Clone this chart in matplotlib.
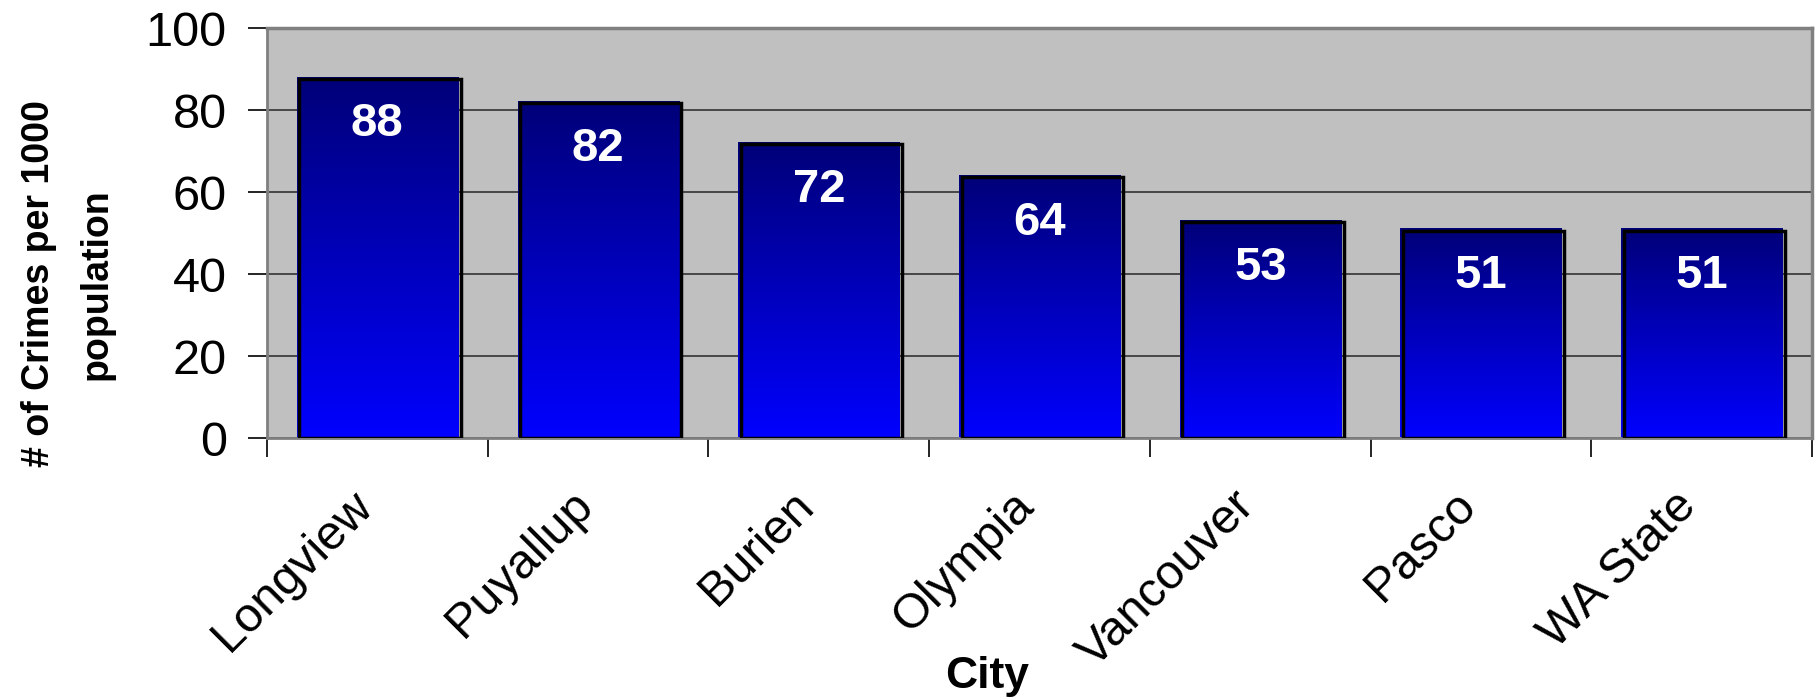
import numpy as np
import matplotlib
matplotlib.use("Agg")
import matplotlib.pyplot as plt
from matplotlib.colors import LinearSegmentedColormap
from matplotlib.transforms import ScaledTranslation

plt.rcParams['font.family'] = ['Liberation Sans', 'DejaVu Sans']

cities = ['Longview', 'Puyallup', 'Burien', 'Olympia', 'Vancouver', 'Pasco', 'WA State']
crimes = [88, 82, 72, 64, 53, 51, 51]

fig = plt.figure(figsize=(18.2, 7), dpi=100)
ax = fig.add_axes([0.1467, 0.374, 0.849, 0.586])
ax.set_facecolor('#c0c0c0')

x = np.arange(len(cities))
width = 0.73
cmap = LinearSegmentedColormap.from_list('blu', ['#000078', '#0000ff'])
grad = np.linspace(0, 1, 256).reshape(-1, 1)

for xi, v in zip(x, crimes):
    # outline shifted a touch right/down like the old excel shadow
    ax.bar(xi + 0.012, v - 0.4, width, bottom=0, facecolor='none',
           edgecolor='black', linewidth=2.5, zorder=3)
    ax.imshow(grad, cmap=cmap, aspect='auto', zorder=2,
              extent=(xi - width / 2, xi + width / 2, 0, v))
    ax.text(xi, v - 11.5, str(v), ha='center', va='center', color='white',
            fontsize=34, fontweight='bold', zorder=4)

ax.set_xlim(-0.5, len(cities) - 0.5)
ax.set_ylim(0, 100)
ax.set_yticks([0, 20, 40, 60, 80, 100])
ax.yaxis.grid(True, color='#333333', linewidth=1.2)
ax.set_axisbelow(True)
ax.tick_params(axis='y', labelsize=35, length=14, width=1.2, direction='out', pad=15)

ax.set_xticks(x)
ax.set_xticklabels(cities, rotation=45, ha='right', va='top', rotation_mode='anchor', fontsize=35)
ax.set_xticks(np.arange(-0.5, len(cities)), minor=True)
ax.tick_params(axis='x', which='major', length=0, pad=32)
ax.tick_params(axis='x', which='minor', length=14, width=1.2, direction='out')
shift = ScaledTranslation(-0.28, 0, fig.dpi_scale_trans)
for lab in ax.get_xticklabels():
    lab.set_transform(lab.get_transform() + shift)

for s in ['top', 'right']:
    ax.spines[s].set_color('#808080')
    ax.spines[s].set_linewidth(2.5)
ax.spines['left'].set_color('#808080')
ax.spines['left'].set_linewidth(2)
ax.spines['bottom'].set_color('#808080')
ax.spines['bottom'].set_linewidth(2)

fig.text(68 / 1820, 1 - 284 / 700, '# of Crimes per 1000\npopulation', rotation=90,
         ha='center', va='center', fontsize=27, fontweight='bold',
         linespacing=1.75, multialignment='center')
fig.text(987 / 1820, 12 / 700, 'City', ha='center', va='baseline',
         fontsize=32, fontweight='bold')

plt.savefig('out.png', dpi=100)
